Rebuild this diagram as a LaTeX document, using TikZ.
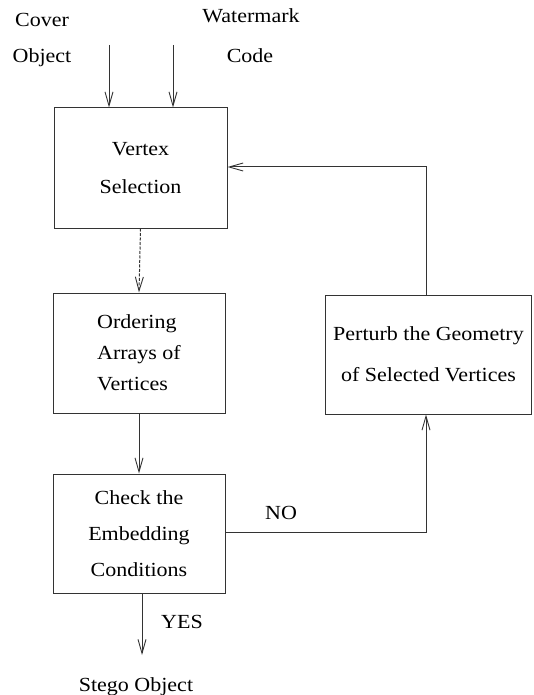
\documentclass[tikz,border=0pt]{standalone}
\usepackage{fontspec}
\setmainfont{Liberation Serif}[FakeStretch=1.1]
\usetikzlibrary{arrows.meta}
\begin{document}
\begin{tikzpicture}[x=1pt,y=-1pt,
  line/.style={draw=black!80,line width=1pt},
  arr/.style={line,-{Straight Barb[length=14pt,width=8pt,line width=0.9pt]}},
  box/.style={line,rectangle,inner sep=0pt,align=center},
  lbl/.style={inner sep=0pt,anchor=base,font=\fontsize{20}{24}\selectfont}
]
\useasboundingbox (0,0) rectangle (533,695);
% labels on top
\node[lbl] (cover) at (42,27) {Cover};
\node[lbl] (object) at (42,63) {Object};
\node[lbl] (wm) at (251,23) {Watermark};
\node[lbl] (code) at (250,63) {Code};
% boxes
\node[box,minimum width=173pt,minimum height=120pt,font=\fontsize{20}{38}\selectfont] (b1) at (140.5,168) {Vertex\\Selection};
\node[box,minimum width=172pt,minimum height=120pt,align=left,font=\fontsize{20}{31}\selectfont] (b2) at (139,353) {Ordering\\Arrays of\\Vertices};
\node[box,minimum width=172pt,minimum height=119pt,font=\fontsize{20}{36}\selectfont] (b3) at (139,533.5) {Check the\\Embedding\\Conditions};
\node[box,minimum width=206pt,minimum height=119pt,font=\fontsize{20}{41}\selectfont] (b4) at (428.5,354.5) {Perturb the Geometry\\of Selected Vertices};
% input arrows
\coordinate (s1) at (109,45);
\coordinate (s2) at (173,45);
\draw[arr] (s1) -- (s1 |- b1.north);
\draw[arr] (s2) -- (s2 |- b1.north);
% flow
\draw[arr,dash pattern=on 3pt off 1.5pt] (b1.south) -- (b2.north);
\draw[arr] (b2.south) -- (b3.north);
\node[lbl] (stego) at (136,691) {Stego Object};
\coordinate (e3) at (142,655);
\draw[arr] (e3 |- b3.south) -- (e3);
\node[lbl] (yes) at (182,628) {YES};
% NO branch
\coordinate (nocorner) at (426,532);
\draw[arr] (b3.east |- nocorner) -- (nocorner) -- (nocorner |- b4.south);
\node[lbl] (no) at (281,519) {NO};
% feedback
\coordinate (fb) at (426,167);
\draw[arr] (fb |- b4.north) -- (fb) -- (b1.east |- fb);
\end{tikzpicture}
\end{document}
